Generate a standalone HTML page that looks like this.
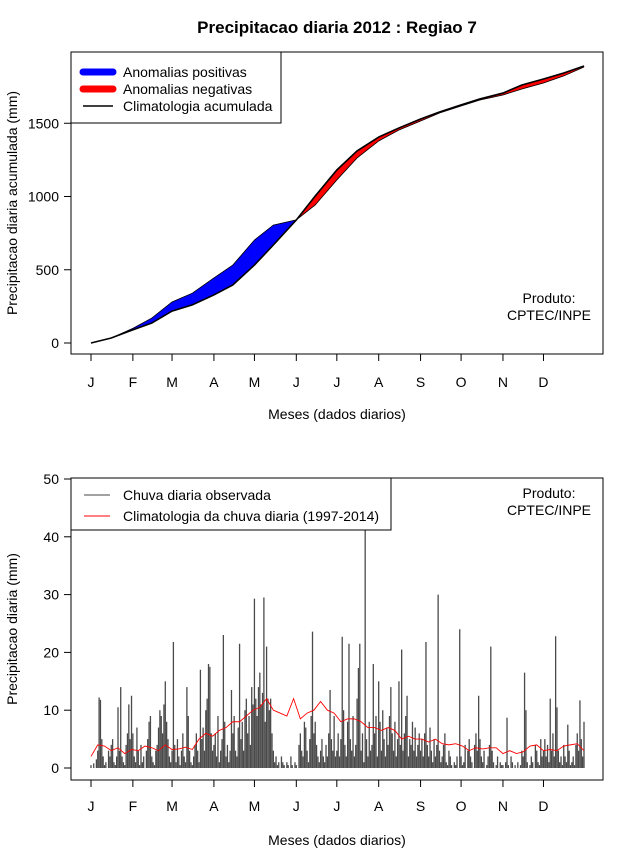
<!DOCTYPE html>
<html><head><meta charset="utf-8"><style>
html,body{margin:0;padding:0;background:#fff;}
svg{display:block;font-family:"Liberation Sans",sans-serif;}
</style></head><body>
<svg id="c" width="640" height="850" viewBox="0 0 640 850" xmlns="http://www.w3.org/2000/svg">
<text x="337" y="33" text-anchor="middle" font-size="17" font-weight="bold">Precipitacao diaria 2012 : Regiao 7</text>
<g id="topPanel"></g>
<g id="botPanel"></g>
</svg>
<script>
// ---- data ----
const months = ["J","F","M","A","M","J","J","A","S","O","N","D"];
const monthStartDays = [0,31,60,91,121,152,182,213,244,274,305,335];
const cumDays = [0,15,31,45,60,75,91,105,121,135,152,166,182,197,213,228,244,258,274,288,305,319,335,350,365];
const cumObserved = [0,34,100,170,280,340,444,532,703,805,840,942,1113,1263,1379,1454,1515,1570,1618,1659,1693,1734,1775,1823,1884];
const cumClimatology = [0,34,90,136,218,260,328,396,532,669,840,1003,1181,1311,1406,1468,1529,1577,1625,1666,1706,1761,1802,1843,1891];
const topTicks = [0,500,1000,1500];
const botTicks = [0,10,20,30,40,50];
const dailyObserved = [
0.5,0,0.8,0,1.5,3,12.2,11.8,5,2,0.5,1,0,3,2,4,5,1,0.5,2,10.5,3,14,2,1,0.5,4,6,11,5,12.5,
6,2,1,7,3,0.5,4,1,2,0,3,5,8,9,2,1,0.5,3,4,7,10,9,6,11,15,8,5,2,1,
3,21.8,4,1,5,2,0.5,3,6,2,1,14,9,3,1,0.5,2,4,6,3,1,17,5,7,3,10,12,18,17.5,6,3,
4,6,2,9,1,3,5,23,8,2,4,1,3,13.5,6,9,3,2,7,21.5,5,8,3,10,12,6,9,4,14,11,
29.3,12,9,14,16.5,11,13,29.5,8,21,12,10,12,6,3,1,2,0.5,1,0,2,1,0.5,0,1,0.5,0,2,0.5,0,1,
0.5,0,4,6,3,2,8,7,3,1,5,9,23.6,6,8,4,2,1,3,5,2,1,4,2,6,13.5,5,3,9,2,
3,6,2,5,22.7,10,4,2,8,21.5,5,3,9,2,4,12,17.3,21.5,3,6,1,42,5,2,8,3,4,18,6,9,2,
15,8,3,10,5,2,7,4,9,14,6,3,8,2,5,15,4,20.5,3,6,9,12.5,2,5,4,8,3,7,2,4,6,
3,5,2,6,21.8,4,2,7,3,1,5,2,4,30,3,1,2,4,6,1,0.5,3,2,0.5,0,1,0.5,2,0,24,
2,0.5,1,4,0,3,5,2,1,0,4,6,3,12.5,5,2,1,3,0,0.5,2,4,21,3,1,0,0.5,2,0,1,0.5,
0.5,0,1,8.7,0.5,0,2,1,0,0.5,0,1,0,0.5,3,2,16.5,10,1,0,0.5,2,1,0,4,3,1,0.5,5,2,
3,5,2,4,1,12,3,6,2,22.8,10.5,3,1,2,0.5,4,2,1,7.5,3,0.5,1,2,0.5,4,6,3,11.7,5,2,8];
const climStep = 5;
const dailyClimatology = [2,4,3.8,3,3.5,2.5,3.2,3,3.8,3.5,3,4,3.2,3.3,3.6,3.2,5,6,5.5,6.5,7,8,8,9,10,10.5,12,10,9.5,9,12,8.5,9.5,10,11.5,10,9.5,8,8.5,8.5,8,7,7,6.5,7,6.5,5,5.5,5,5,4.5,5,4.2,4,4.2,3.8,3,3.5,3.3,3.5,3.5,2.5,3,2.5,2.8,3.8,4,3,3.2,3,3.8,4,4.2,3];

// ---- helpers ----
const NS="http://www.w3.org/2000/svg";
function mk(parent,tag,attrs,text){const e=document.createElementNS(NS,tag);for(const k in attrs)e.setAttribute(k,attrs[k]);if(text!==undefined)e.textContent=text;parent.appendChild(e);return e;}
const xDay = d => 91 + d*(493/365);
const yTop = v => 343 - v*0.1465;
const yBot = v => 768 - v*5.78;

function panel(g, boxTop, boxBot, ticks, yf, ytitle, ytitleY, monthY, xtitleY){
  const box=mk(g,'rect',{x:71,y:boxTop,width:532,height:boxBot-boxTop,fill:'none',stroke:'#000','stroke-width':1});
  
  
  ticks.forEach(t=>{
    const y=yf(t);
    const l=mk(g,'line',{x1:64,x2:71,y1:y,y2:y,stroke:'#000'});
    
    
    const tx=mk(g,'text',{x:59,y:y+5,'text-anchor':'end','font-size':14},String(t));
    
    
  });
  monthStartDays.forEach((d,i)=>{
    const x=xDay(d);
    const l=mk(g,'line',{x1:x,x2:x,y1:boxBot,y2:boxBot+7,stroke:'#000'});
    
    
    const tx=mk(g,'text',{x:x,y:monthY,'text-anchor':'middle','font-size':14},months[i]);
    
    
  });
  const yt=mk(g,'text',{x:0,y:0,'text-anchor':'middle','font-size':14,transform:`translate(17,${ytitleY}) rotate(-90)`},ytitle);
  
  
  const xt=mk(g,'text',{x:337,y:xtitleY,'text-anchor':'middle','font-size':14},'Meses (dados diarios)');
  
  
}

// ---- top panel ----
const topG=document.getElementById('topPanel');
panel(topG,52,354,topTicks,yTop,'Precipitacao diaria acumulada (mm)',203,387,419);
for(let i=0;i<cumDays.length-1;i++){
  const x0=xDay(cumDays[i]),x1=xDay(cumDays[i+1]);
  const d0=cumObserved[i]-cumClimatology[i],d1=cumObserved[i+1]-cumClimatology[i+1];
  const pos=(d0+d1)>=0;
  const pts=`${x0},${yTop(cumObserved[i])} ${x1},${yTop(cumObserved[i+1])} ${x1},${yTop(cumClimatology[i+1])} ${x0},${yTop(cumClimatology[i])}`;
  const p=mk(topG,'polygon',{points:pts,fill:pos?'#0000ff':'#ff0000',stroke:pos?'#0000ff':'#ff0000','stroke-width':0.5});
  
  
}
const obsLine=mk(topG,'polyline',{points:cumDays.map((d,i)=>`${xDay(d)},${yTop(cumObserved[i])}`).join(' '),fill:'none',stroke:'#000','stroke-width':0.8});


const climLine=mk(topG,'polyline',{points:cumDays.map((d,i)=>`${xDay(d)},${yTop(cumClimatology[i])}`).join(' '),fill:'none',stroke:'#000','stroke-width':1.6});


const lg=mk(topG,'g',{});


mk(lg,'rect',{x:71,y:52,width:210,height:71,fill:'#fff',stroke:'#000'});
[['#0000ff',7,'Anomalias positivas',72],['#ff0000',7,'Anomalias negativas',89],['#000',1.6,'Climatologia acumulada',106]].forEach(e=>{
  const it=mk(lg,'g',{});
  
  
  mk(it,'line',{x1:83,x2:113,y1:e[3],y2:e[3],stroke:e[0],'stroke-width':e[1],'stroke-linecap':e[1]>2?'round':'butt'});
  mk(it,'text',{x:123,y:e[3]+5,'font-size':14},e[2]);
});
const pr1=mk(topG,'text',{x:549,y:303,'text-anchor':'middle','font-size':14},'Produto:');


const pr2=mk(topG,'text',{x:549,y:320,'text-anchor':'middle','font-size':14},'CPTEC/INPE');



// ---- bottom panel ----
const botG=document.getElementById('botPanel');
panel(botG,478,780,botTicks,yBot,'Precipitacao diaria (mm)',629,811,845);
dailyObserved.forEach((v,d)=>{
  if(v<=0)return;
  const x=xDay(d);
  const b=mk(botG,'line',{x1:x,x2:x,y1:yBot(0),y2:yBot(v),stroke:'#4a4a4a','stroke-width':1.3});
  
  
});
const cl=mk(botG,'polyline',{points:dailyClimatology.map((v,i)=>`${xDay(i*climStep)},${yBot(v)}`).join(' '),fill:'none',stroke:'#ff0000','stroke-width':0.9});


const lg2=mk(botG,'g',{});


mk(lg2,'rect',{x:71,y:478,width:320,height:52,fill:'#fff',stroke:'#000'});
[['#444','Chuva diaria observada',495],['#ff0000','Climatologia da chuva diaria (1997-2014)',516]].forEach(e=>{
  const it=mk(lg2,'g',{});
  
  
  mk(it,'line',{x1:84,x2:110,y1:e[2],y2:e[2],stroke:e[0],'stroke-width':1});
  mk(it,'text',{x:123,y:e[2]+5,'font-size':14},e[1]);
});
const pr3=mk(botG,'text',{x:549,y:498,'text-anchor':'middle','font-size':14},'Produto:');


const pr4=mk(botG,'text',{x:549,y:515,'text-anchor':'middle','font-size':14},'CPTEC/INPE');


</script>
</body></html>
